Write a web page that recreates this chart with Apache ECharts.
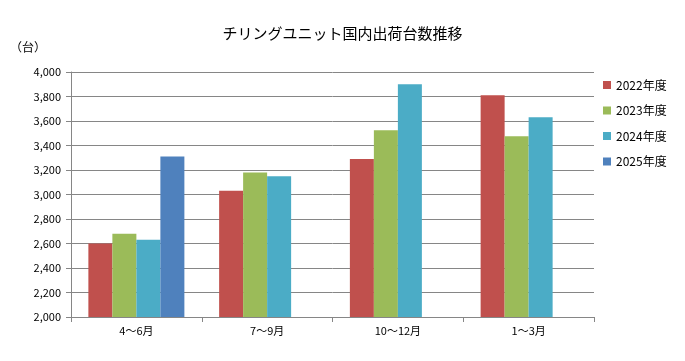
<!DOCTYPE html>
<html><head><meta charset="utf-8">
<script src="https://cdn.jsdelivr.net/npm/echarts@6/dist/echarts.min.js"></script>
<style>html,body{margin:0;padding:0;background:#fff}#c{width:685px;height:361px}</style>
</head><body><div id="c"></div>
<script>
const categories = ['4～6月', '7～9月', '10～12月', '1～3月'];
const seriesNames = ['2022年度', '2023年度', '2024年度', '2025年度'];
const fy2022 = [2600, 3030, 3290, 3810];
const fy2023 = [2680, 3180, 3525, 3475];
const fy2024 = [2630, 3150, 3900, 3630];
const fy2025 = [3310, null, null, null];
const colors = ['#C0504D', '#9BBB59', '#4BACC6', '#4F81BD'];
const F = '"Noto Sans CJK JP", "DejaVu Sans", sans-serif';
const chart = echarts.init(document.getElementById('c'));
const data = [fy2022, fy2023, fy2024, fy2025];
chart.setOption({
  animation: false,
  color: colors,
  title: {text: 'チリングユニット国内出荷台数推移', left: 'center', top: 21,
    textStyle: {fontFamily: F, fontSize: 15, fontWeight: 'normal', color: '#000'}},
  graphic: [{type: 'text', left: 10, top: 41, style: {text: '（台）', font: '12px ' + F, fill: '#000'}}],
  legend: {orient: 'vertical', left: 598, top: 74, itemWidth: 8, itemHeight: 8, itemGap: 13.5,
    icon: 'rect', textStyle: {fontFamily: F, fontSize: 12, color: '#000'}, data: seriesNames},
  grid: {left: 71, right: 91, top: 72, bottom: 44},
  xAxis: {type: 'category', data: categories,
    axisLine: {lineStyle: {color: '#868686'}},
    axisTick: {show: true, length: 5, lineStyle: {color: '#868686'}},
    axisLabel: {fontFamily: F, fontSize: 11, color: '#000', margin: 8}},
  yAxis: {type: 'value', min: 2000, max: 4000, interval: 200,
    axisLine: {show: true, lineStyle: {color: '#868686'}},
    axisTick: {show: true, length: 5, inside: false, lineStyle: {color: '#868686'}},
    splitLine: {lineStyle: {color: '#868686'}},
    axisLabel: {fontFamily: F, fontSize: 11, color: '#000', margin: 10,
      formatter: v => v.toLocaleString('en-US')}},
  series: seriesNames.map((n, i) => ({name: n, type: 'bar', data: data[i], barWidth: 24, barGap: '0%'}))
});
</script></body></html>
